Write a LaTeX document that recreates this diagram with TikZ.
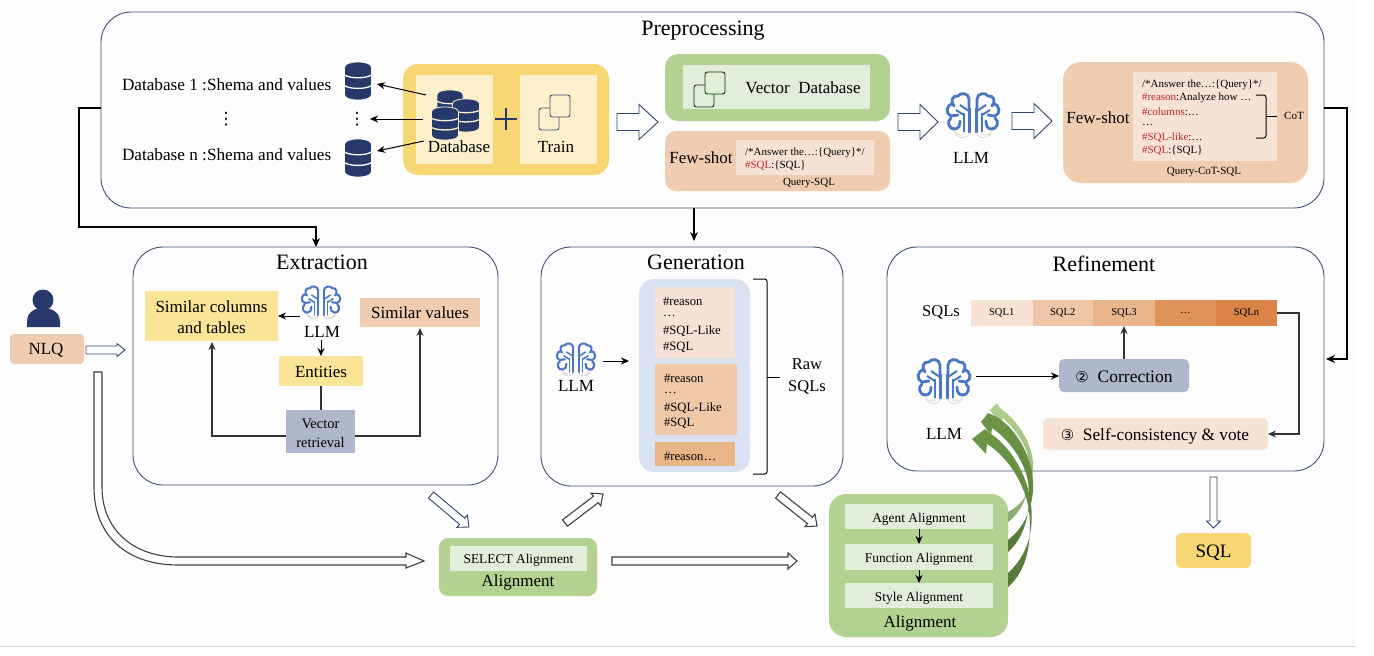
\documentclass[tikz,border=0pt]{standalone}
\usepackage{fontspec}
\setmainfont{Liberation Serif}
\newfontfamily\symf{DejaVu Sans}
\usetikzlibrary{calc,arrows.meta}
\definecolor{frameC}{HTML}{3F5072}
\definecolor{navyC}{HTML}{26396A}
\definecolor{hollowC}{HTML}{2F4468}
\definecolor{yelC}{HTML}{F7D774}
\definecolor{yelIn}{HTML}{FCF0CC}
\definecolor{yelMid}{HTML}{F9E497}
\definecolor{grnC}{HTML}{B3D191}
\definecolor{grnIn}{HTML}{E2EEDA}
\definecolor{oraC}{HTML}{F0CDB0}
\definecolor{oraIn}{HTML}{F7E3D6}
\definecolor{oraB}{HTML}{EFC9A8}
\definecolor{oraD}{HTML}{E9B486}
\definecolor{bgreyC}{HTML}{ADB9CA}
\definecolor{blueIn}{HTML}{D9E2F3}
\definecolor{brainC}{HTML}{4A76C4}
\definecolor{redC}{HTML}{C0272D}
\definecolor{sqlA}{HTML}{F7E2D4}
\definecolor{sqlB}{HTML}{EEC5A6}
\definecolor{sqlC}{HTML}{E9B58D}
\definecolor{sqlD}{HTML}{DF9359}
\definecolor{sqlE}{HTML}{DC8448}
\definecolor{grnD}{HTML}{6E9648}
\definecolor{grnE}{HTML}{557A36}
\definecolor{grnF}{HTML}{8BA872}
\newcommand{\fs}[1]{\fontsize{#1}{#1}\selectfont}
\newcommand{\rd}[1]{\textcolor{redC}{#1}}
\tikzset{
  x=1pt,y=-1pt,
  bxs/.style={rectangle,inner sep=0pt,outer sep=0pt,align=center},
  frameB/.style={bxs,draw=frameC,line width=0.9pt,rounded corners=30pt,fill=none},
  txt/.style={inner sep=0pt,outer sep=0pt,align=center,text=black},
  ltxt/.style={inner sep=0pt,outer sep=0pt,anchor=west,text=black},
  arr/.style={draw=black,line width=1pt,-{Stealth[length=8pt,width=7pt]}},
  elbow/.style={draw=black!80,line width=1.1pt,-{Stealth[length=8pt,width=7pt]}},
  bold/.style={draw=black,line width=1.4pt,-{Stealth[length=9pt,width=8pt]}},
  plainl/.style={draw=black!80,line width=1.1pt},
  hollow/.style={draw=hollowC,line width=0.9pt,fill=white,line join=miter},
  hollowK/.style={draw=black!75,line width=1.1pt,fill=white,line join=miter},
  brk/.style={draw=black,line width=1pt,rounded corners=2.5pt},
}
% box by corners
\newcommand{\bx}[7]{\node[bxs,#6,minimum width={#4-#2},minimum height={#5-#3}] (#1) at ({(#2+#4)/2},{(#3+#5)/2}) {#7};}
% hollow arrow: style, from, to, half body, half head, head length
\newcommand{\harrow}[6]{%
  \coordinate (hh) at ($(#3)!#6pt!(#2)$);
  \draw[#1] ($(#2)!#4pt!90:(#3)$) -- ($(hh)!#4pt!90:(#3)$) -- ($(hh)!#5pt!90:(#3)$) -- (#3)
    -- ($(hh)!#5pt!-90:(#3)$) -- ($(hh)!#4pt!-90:(#3)$) -- ($(#2)!#4pt!-90:(#3)$) -- cycle;}
% database icon: cx, top, w, h, outline colour
\newcommand{\dbicon}[5]{\begin{scope}[shift={(#1,#2)},xscale={#3/2},yscale={#4}]
  \fill[navyC,draw=#5,line width=0.8pt] (-1,.15) .. controls (-1,.05) and (-.6,0) .. (0,0) .. controls (.6,0) and (1,.05) .. (1,.15) -- (1,.85) .. controls (1,.95) and (.6,1) .. (0,1) .. controls (-.6,1) and (-1,.95) .. (-1,.85) -- cycle;
  \draw[#5,line width=1.3pt] (-1,.34) .. controls (-.6,.44) and (.6,.44) .. (1,.34);
  \draw[#5,line width=1.3pt] (-1,.62) .. controls (-.6,.72) and (.6,.72) .. (1,.62);
\end{scope}}
% two overlapped squares: x,y of lower left square top-left, colour, fill
\newcommand{\sqicon}[4]{\begin{scope}[shift={(#1,#2)}]
  \draw[#3,line width=0.9pt,rounded corners=2.5pt] (0,13) rectangle (20,35);
  \draw[#3,line width=0.9pt,rounded corners=2.5pt,fill=#4] (11,0) rectangle (31,22);
\end{scope}}
\newcommand{\brainhalf}[1]{%
  \draw[brainC,line width=#1*2.8pt,line cap=round] (4,-8) -- (4,-17) .. controls (4,-23) and (13,-24) .. (15,-20) .. controls (21,-21) and (23,-14) .. (19,-10);
  \draw[brainC,line width=#1*2.8pt,line cap=round] (20,-12) .. controls (27,-12) and (28,-2) .. (22,0) -- (15,-1);
  \draw[brainC,line width=#1*2.8pt,line cap=round] (22,2) .. controls (27,5) and (24,14) .. (18,13) .. controls (14,12.5) and (13,9) .. (13,5);
  \draw[brainC,line width=#1*2.6pt] (3.5,-8) -- (3.5,17);
  \draw[brainC,line width=#1*2.2pt] (9,-3) -- (9,16);
  \draw[brainC,line width=#1*2pt] (4,-5) -- (13,-11);
  \draw[brainC,line width=#1*2pt] (9,-1) -- (17,-6);
  \draw[black!22,line width=0.5pt] (3,16) .. controls (4,22) and (12,24) .. (18,18);
  \draw[black!22,line width=0.5pt] (8,16) .. controls (9,20) and (14,21) .. (21,14);
}
% brain: name, cx, cy, scale
\newcommand{\brainicon}[4]{%
  \node[bxs,minimum width={52*#4},minimum height={48*#4}] (#1) at (#2,#3) {};
  \begin{scope}[shift={(#2,#3)},scale=#4]
    \brainhalf{#4}
    \begin{scope}[xscale=-1]\brainhalf{#4}\end{scope}
  \end{scope}}
\begin{document}
\begin{tikzpicture}
\useasboundingbox[fill=white] (0,0) rectangle (1374,656);
\fill[black!0.6] (0,0) rectangle (1356,645);
\draw[black!14,line width=0.8pt] (0,646) -- (1356,646);

% ---------- Preprocessing
\bx{pre}{101}{12}{1324}{208}{frameB}{}
\node[txt,font=\fs{22}] (preT) at (703,31) {Preprocessing};
\node[ltxt,font=\fs{17.2}] (db1T) at (122,84.5) {Database 1 :Shema and values};
\node[txt,font=\symf\fs{17}] (dotsT) at (226,119) {⋮};
\node[ltxt,font=\fs{17.2}] (dbnT) at (122,154.5) {Database n :Shema and values};
\node[bxs,minimum width=27,minimum height=38] (db1) at (358,81) {};
\dbicon{358}{62}{27}{38}{white}
\node[txt,font=\symf\fs{17}] (dotsI) at (357,119) {⋮};
\node[bxs,minimum width=27,minimum height=38] (dbn) at (358,158) {};
\dbicon{358}{139}{27}{38}{white}

\bx{yel}{403}{64}{609}{175}{fill=yelC,rounded corners=15pt}{}
\bx{yelL}{416}{75}{493}{164}{fill=yelIn}{}
\bx{yelR}{520}{75}{597}{164}{fill=yelIn}{}
\dbicon{450}{90}{26}{33}{yelIn}
\dbicon{466}{99}{27}{33}{yelIn}
\dbicon{445}{107}{27}{33}{yelIn}
\node[txt,font=\fs{17}] (dbT) at (459,147) {Database};
\node[txt,font=\fs{17}] (trT) at (556,147) {Train};
\draw[navyC,line width=1.8pt] (495,119) -- (517,119) (506,108) -- (506,130);
\sqicon{539}{95}{frameC}{yelIn}
\coordinate (dbA) at (426,95);\coordinate (dbB) at (423,119);\coordinate (dbC) at (424,141);
\coordinate (e1) at (377,84);\coordinate (e2) at (370,119);\coordinate (e3) at (377,151);
\draw[arr] (dbA) -- (e1);
\draw[arr] (dbB) -- (e2);
\draw[arr] (dbC) -- (e3);

\coordinate (h1a) at (617,122);\coordinate (h1b) at (658,122);
\harrow{hollow}{h1a}{h1b}{8.5}{17.5}{19}
\bx{vec}{665}{54}{890}{121}{fill=grnC,rounded corners=13pt}{}
\bx{vecIn}{683}{65}{870}{109}{fill=grnIn}{}
\sqicon{694}{72}{black!55!green!45!black}{grnIn}
\node[txt,font=\fs{17}] (vecT) at (803,88) {Vector\ \ Database};
\bx{fs1}{665}{131}{890}{191}{fill=oraC,rounded corners=11pt}{}
\bx{fs1In}{736}{140}{874}{175}{fill=oraIn}{}
\node[txt,font=\fs{17}] (fs1T) at (701,158) {Few-shot};
\node[ltxt,font=\fs{11}] (fs1a) at (745,152.5) {/*Answer the…:\{Query\}*/};
\node[ltxt,font=\fs{11}] (fs1b) at (745,165.5) {\rd{\#SQL}:\{SQL\}};
\node[txt,font=\fs{11}] (fs1c) at (809,183) {Query-SQL};

\coordinate (h2a) at (898,122);\coordinate (h2b) at (938,122);
\harrow{hollow}{h2a}{h2b}{8.5}{17.5}{18}
\brainicon{brP}{973}{116}{1}
\node[txt,font=\fs{17}] (llmP) at (971,158) {LLM};
\coordinate (h3a) at (1012,121);\coordinate (h3b) at (1052,121);
\harrow{hollow}{h3a}{h3b}{8.5}{17.5}{18}

\bx{fs2}{1063}{62}{1308}{183}{fill=oraC,rounded corners=18pt}{}
\bx{fs2In}{1133}{72}{1277}{161}{fill=oraIn}{}
\node[txt,font=\fs{17}] (fs2T) at (1098,118) {Few-shot};
\node[ltxt,font=\fs{11}] (l1) at (1142,84.5) {/*Answer the…:\{Query\}*/};
\node[ltxt,font=\fs{11}] (l2) at (1142,98) {\rd{\#reason}:Analyze how …};
\node[ltxt,font=\fs{11}] (l3) at (1142,112) {\rd{\#columns}:…};
\node[ltxt,font=\fs{11}] (l4) at (1142,125.5) {…};
\node[ltxt,font=\fs{11}] (l5) at (1142,137.5) {\rd{\#SQL-like}:…};
\node[ltxt,font=\fs{11}] (l6) at (1142,150.5) {\rd{\#SQL}:\{SQL\}};
\node[txt,font=\fs{11}] (l7) at (1204,172) {Query-CoT-SQL};
\draw[brk] (1256,95) -- (1266,95) -- (1266,138) -- (1256,138);
\draw[brk] (1266,116) -- (1277,116);
\node[txt,font=\fs{11}] (cot) at (1294,116) {CoT};

% ---------- Extraction
\bx{ext}{133}{247}{498}{485}{frameB}{}
\node[txt,font=\fs{22}] (extT) at (322,262) {Extraction};
\bx{sim}{145}{291}{278}{341}{fill=yelMid}{}
\node[txt,font=\fs{17}] (simT) at (211.5,317) {Similar columns\\[4pt]and tables};
\brainicon{brE}{321}{303}{0.74}
\node[txt,font=\fs{17}] (llmE) at (322,332) {LLM};
\bx{val}{360}{298}{480}{327}{fill=oraC,font=\fs{17}}{Similar values}
\bx{ent}{279}{356}{363}{386}{fill=yelMid}{}
\node[txt,font=\fs{17}] (entT) at (321,372) {Entities};
\bx{ret}{286}{410}{355}{453}{fill=bgreyC}{}
\node[txt,font=\fs{14.5}] (retT) at (320.5,433) {Vector\\[4.5pt]retrieval};
\coordinate (brEw) at (300,316);
\draw[arr] (brEw) -- (sim.east |- brEw);
\coordinate (llmEs) at (321,340);
\draw[arr] (llmEs) -- (llmEs |- ent.north);
\draw[plainl] (llmEs |- ent.south) -- (llmEs |- ret.north);
\coordinate (simIn) at (212,342);
\coordinate (valIn) at (420,328);
\draw[elbow] (ret.west |- 0,436) -- (212,436) -- (simIn);
\draw[elbow] (ret.east |- 0,436) -- (420,436) -- (valIn);

% ---------- User
\node[bxs,minimum width=33,minimum height=38] (user) at (43,308) {};
\fill[navyC] (43,300) circle (10.5);
\fill[navyC] (27,327) -- (27,322) .. controls (27,311) and (36,308) .. (43,308) .. controls (50,308) and (60,311) .. (60,322) -- (60,327) -- cycle;
\bx{nlq}{10}{334}{84}{364}{fill=oraC,rounded corners=4pt}{}
\node[txt,font=\fs{17}] (nlqT) at (46,350) {NLQ};
\coordinate (ha) at (86,350);\coordinate (hb) at (125,350);
\harrow{hollow}{ha}{hb}{4}{6.5}{8}

% long hollow arrow
\coordinate (longS) at (98,372);\coordinate (longE) at (424,561);
\draw[hollowK] ($(longS)+(-4,0)$) -- ($(longS)+(-4,115)$) .. controls ($(longS)+(-4,165)$) and ($(longS)+(30,193)$) .. ($(longS)+(80,193)$) -- (406,565) -- (406,568) -- (longE) -- (406,553) -- (406,557) -- ($(longS)+(80,185)$) .. controls ($(longS)+(38,185)$) and ($(longS)+(4,160)$) .. ($(longS)+(4,115)$) -- ($(longS)+(4,0)$) -- cycle;

% ---------- Generation
\bx{gen}{541}{247}{843}{486}{frameB}{}
\node[txt,font=\fs{22}] (genT) at (696,262) {Generation};
\bx{blu}{639}{279}{750}{472}{fill=blueIn,rounded corners=15pt}{}
\bx{g1}{655}{287}{735}{358}{fill=oraIn}{}
\bx{g2}{655}{364}{737}{435}{fill=oraB}{}
\bx{g3}{655}{442}{735}{466}{fill=oraD}{}
\node[ltxt,font=\fs{12.7}] (g1a) at (663,301) {\#reason};
\node[ltxt,font=\fs{12.7}] (g1b) at (663,316) {…};
\node[ltxt,font=\fs{12.7}] (g1c) at (663,331) {\#SQL-Like};
\node[ltxt,font=\fs{12.7}] (g1d) at (663,347) {\#SQL};
\node[ltxt,font=\fs{12.7}] (g2a) at (664,378) {\#reason};
\node[ltxt,font=\fs{12.7}] (g2b) at (664,393) {…};
\node[ltxt,font=\fs{12.7}] (g2c) at (664,408) {\#SQL-Like};
\node[ltxt,font=\fs{12.7}] (g2d) at (664,423) {\#SQL};
\node[ltxt,font=\fs{12.7}] (g3a) at (664,456) {\#reason…};
\brainicon{brG}{576}{360}{0.74}
\node[txt,font=\fs{17}] (llmG) at (576,386) {LLM};
\coordinate (gA) at (603,361);\coordinate (gB) at (629,361);
\draw[arr] (gA) -- (gB);
\draw[brk] (753,279) -- (767,279) -- (767,474) -- (753,474);
\draw[brk] (767,377) -- (780,377);
\node[txt,font=\fs{16.5}] (raw) at (807,376.5) {Raw\\[6pt]SQLs};

% ---------- Refinement
\bx{ref}{887}{247}{1324}{471}{frameB}{}
\node[txt,font=\fs{22}] (refT) at (1104,264) {Refinement};
\node[txt,font=\fs{16.5}] (sqlsT) at (941,312) {SQLs};
\bx{s1}{971}{300}{1032.5}{326}{fill=sqlA,font=\fs{10.6}}{SQL1}
\bx{s2}{1032.5}{300}{1093}{326}{fill=sqlB,font=\fs{10.6}}{SQL2}
\bx{s3}{1093}{300}{1155}{326}{fill=sqlC,font=\fs{10.6}}{SQL3}
\bx{s4}{1155}{300}{1216}{326}{fill=sqlD,font=\fs{10.6}}{…}
\bx{s5}{1216}{300}{1277}{326}{fill=sqlE,font=\fs{10.6}}{SQLn}
\bx{cor}{1059}{359}{1189}{392}{fill=bgreyC,rounded corners=5pt}{}
\node[txt,font=\fs{17.5}] (corT) at (1124,376.5) {{\symf\fs{15}②}\ \ Correction};
\bx{vote}{1043}{418}{1268}{450}{fill=oraIn,rounded corners=5pt}{}
\node[txt,font=\fs{17.3}] (voteT) at (1155,436) {{\symf\fs{15}③}\ \ Self-consistency \& vote};
\brainicon{brR}{944}{382}{1}
\node[txt,font=\fs{17}] (llmR) at (944,434) {LLM};
\coordinate (brRe) at (976,376);
\draw[arr] (brRe) -- (cor.west |- brRe);
\draw[elbow] (cor.north) -- (s3.south);
\coordinate (voteC) at (1299,434);
\draw[elbow] (s5.east |- 0,313) -- (1299,313) -- (voteC) -- (vote.east |- voteC);

% ---------- Alignment 1
\bx{al1}{439}{538}{597}{596}{fill=grnC,rounded corners=9pt}{}
\bx{al1In}{450}{546}{587}{571}{fill=grnIn}{}
\node[txt,font=\fs{13.4}] (al1InT) at (518.5,560) {SELECT Alignment};
\node[txt,font=\fs{17}] (al1T) at (518,582) {Alignment};
\coordinate (a1) at (431,495);\coordinate (a2) at (469,527);
\harrow{hollow}{a1}{a2}{4}{8}{9}
\coordinate (b1) at (565,523);\coordinate (b2) at (603,494);
\harrow{hollowK}{b1}{b2}{4}{8}{9}
\coordinate (c1) at (778,495);\coordinate (c2) at (817,526);
\harrow{hollowK}{c1}{c2}{4}{8}{9}
\coordinate (d1) at (612,561);\coordinate (d2) at (797,561);
\harrow{hollowK}{d1}{d2}{4}{8}{9}

% ---------- Alignment 2
\bx{al2}{829}{494}{1008}{637}{fill=grnC,rounded corners=17pt}{}
\bx{ag}{845}{504}{993}{529}{fill=grnIn}{}
\bx{fn}{845}{544}{993}{570}{fill=grnIn}{}
\bx{st}{845}{583}{993}{608}{fill=grnIn}{}
\node[txt,font=\fs{13.4}] (agT) at (919,519) {Agent Alignment};
\node[txt,font=\fs{13.4}] (fnT) at (919,559) {Function Alignment};
\node[txt,font=\fs{13.4}] (stT) at (919,598) {Style Alignment};
\node[txt,font=\fs{17}] (al2T) at (920,623) {Alignment};
\draw[arr] (ag.south) -- (fn.north);
\draw[arr] (fn.south) -- (st.north);

% curved green arrows
\path[top color=grnC,bottom color=grnF,draw=none]
  (1008,512) .. controls (1026,503) and (1033,485) .. (1033,465) .. controls (1033,445) and (1018,420) .. (1000,408)
  -- (997,403) -- (990,410) -- (1000,424) -- (1003,418) .. controls (1018,432) and (1030,450) .. (1030,470) .. controls (1030,490) and (1024,510) .. (1008,522) -- cycle;
\path[top color=grnD,bottom color=grnE,draw=none]
  (1008,540) .. controls (1028,525) and (1034,500) .. (1033,482) .. controls (1032,455) and (1015,428) .. (997,417)
  -- (988,413) -- (981,422) -- (991,435) -- (992,428) .. controls (1010,440) and (1028,465) .. (1029,490) .. controls (1030,515) and (1024,538) .. (1008,552) -- cycle;
\path[top color=grnD,bottom color=grnE,draw=none]
  (1008,573) .. controls (1028,555) and (1034,530) .. (1031,505) .. controls (1028,475) and (1010,445) .. (988,432)
  -- (985,429) -- (972,439) -- (986,454) -- (987,444) .. controls (1005,455) and (1024,480) .. (1029,510) .. controls (1032,540) and (1028,570) .. (1008,587) -- cycle;

% ---------- SQL
\coordinate (sa) at (1213.5,477);\coordinate (sb) at (1213.5,528);
\harrow{hollow}{sa}{sb}{3.5}{7}{7}
\bx{sql}{1176}{533}{1251}{568}{fill=yelC,rounded corners=5pt}{}
\node[txt,font=\fs{19}] (sqlT) at (1213.5,553) {SQL};

% ---------- cross connectors
\coordinate (pL) at (79,108);\coordinate (pLd) at (79,227);
\draw[bold] (pre.west |- pL) -- (pL) -- (pLd) -- (316,227) -- (316,247);
\coordinate (pR) at (1347,108);\coordinate (pRd) at (1347,359);
\draw[bold] (pre.east |- pR) -- (pR) -- (pRd) -- (1326,359);
\draw[bold] (694,208) -- (694,241);
\end{tikzpicture}
\end{document}
